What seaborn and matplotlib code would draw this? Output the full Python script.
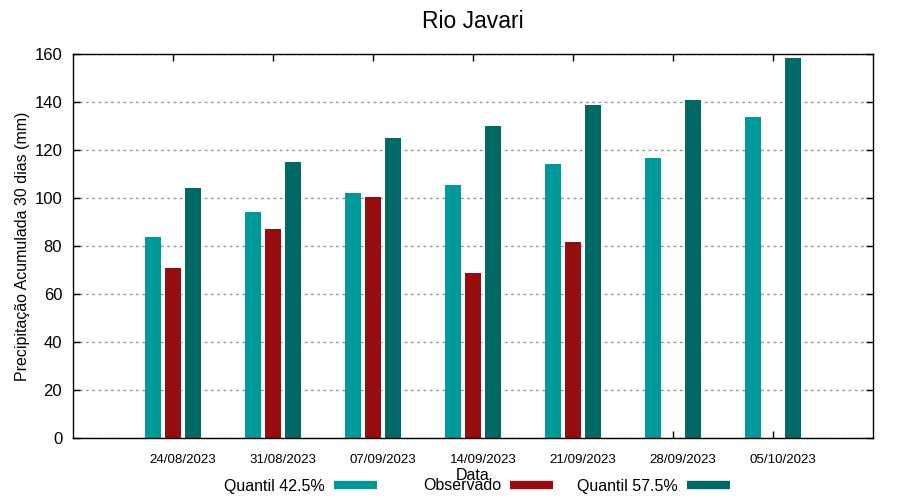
import numpy as np
import pandas as pd
import matplotlib
matplotlib.use("Agg")
import matplotlib.pyplot as plt
import matplotlib.transforms as mtransforms
from matplotlib.lines import Line2D
import seaborn as sns

# data
datas = ["24/08/2023", "31/08/2023", "07/09/2023", "14/09/2023",
         "21/09/2023", "28/09/2023", "05/10/2023"]
quantil_425 = [84.0, 94.3, 102.2, 105.5, 114.3, 116.8, 133.9]
observado = [71.0, 87.2, 100.5, 68.9, 81.8, np.nan, np.nan]
quantil_575 = [104.3, 115.0, 125.0, 130.1, 138.9, 141.0, 158.5]

series = ["Quantil 42.5%", "Observado", "Quantil 57.5%"]
cores = ["#009999", "#960d0f", "#006966"]

df = pd.DataFrame({
    "Data": datas * 3,
    "valor": quantil_425 + observado + quantil_575,
    "serie": np.repeat(series, len(datas)),
})

sns.set_style("ticks")
plt.rcParams["font.family"] = ["Liberation Sans", "DejaVu Sans"]
plt.rcParams["text.color"] = "black"
plt.rcParams["axes.labelcolor"] = "black"
plt.rcParams["xtick.color"] = "black"
plt.rcParams["ytick.color"] = "black"

fig = plt.figure(figsize=(9, 5), dpi=100)
ax = fig.add_axes([0.0815, 0.1234, 0.888, 0.768])

sns.barplot(data=df, x="Data", y="valor", hue="serie", hue_order=series,
            palette=cores, errorbar=None, width=0.6, gap=0.2,
            saturation=1, ax=ax, legend=False, zorder=2, linewidth=0)

ax.set_xlim(-1, 7)
ax.set_ylim(0, 160)
ax.set_yticks(range(0, 161, 20))

ax.set_axisbelow(True)
ax.yaxis.grid(True, color="#999999", linestyle=(0, (2, 2.5)), linewidth=1)
ax.xaxis.grid(False)

for s in ax.spines.values():
    s.set_visible(True)
    s.set_color("black")
    s.set_linewidth(1)

ax.tick_params(axis="y", direction="in", length=5, width=1, labelsize=12,
               left=True, right=True, pad=8)
ax.tick_params(axis="x", direction="in", length=5, width=1, labelsize=9.6,
               bottom=True, top=True, pad=11)

# shift x labels a bit to the right, like the original
offset = mtransforms.ScaledTranslation(10 / 100, 0, fig.dpi_scale_trans)
for lbl in ax.get_xticklabels():
    lbl.set_transform(lbl.get_transform() + offset)

ax.set_xlabel("Data", fontsize=11.5, labelpad=2)
ax.set_ylabel("Precipitação Acumulada 30 dias (mm)", fontsize=11.5, labelpad=3)
ax.set_title("Rio Javari", fontsize=16.5, pad=19)

# legend in fixed-width columns below the plot (gnuplot style)
legend_right = [377 / 900, 553 / 900, 730 / 900]
for cor, nome, xr in zip(cores, series, legend_right):
    h = Line2D([0], [0], color=cor, lw=6, solid_capstyle="butt")
    fig.legend([h], [nome], loc="center right", bbox_to_anchor=(xr, 0.028),
               frameon=False, markerfirst=False, fontsize=11.5,
               handlelength=2.7, handletextpad=0.55, borderpad=0,
               borderaxespad=0)

fig.savefig("out.png", dpi=100)
